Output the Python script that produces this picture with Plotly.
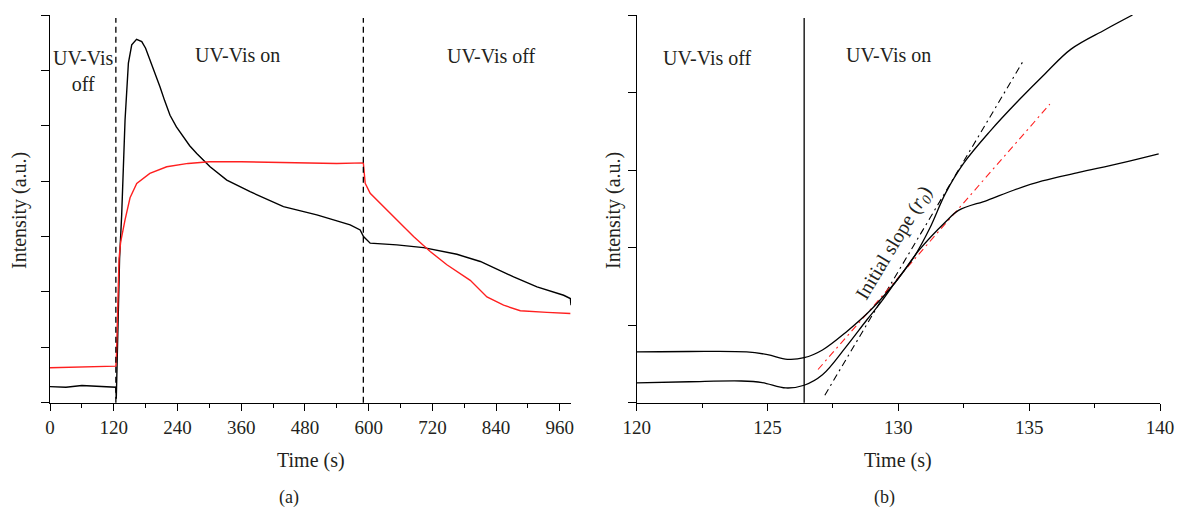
import plotly.graph_objects as go

# ---------------- data: panel (a) ----------------
black_a_t = [0, 30, 60, 90, 120, 124, 124.8, 126, 128, 131, 135, 141.3, 147.6, 153.9, 163,
             172.8, 180, 188.4, 197, 207.2, 216, 226, 238, 251.2, 263, 276.3, 301.4, 332.9, 376.8,
             439.6, 502.4, 533.9, 565.2, 584, 590.3, 602.9, 653.1, 703.4, 766.2, 810.2, 873, 917,
             967.2, 979.8, 981]
black_a_y = [0.29, 0.28, 0.31, 0.29, 0.28, 0.28, 0.07, 0.5, 1.6, 2.6, 3.4, 5.10, 6.13, 6.46, 6.56,
             6.52, 6.40, 6.19, 5.96, 5.70, 5.45, 5.19, 4.98, 4.80, 4.64, 4.50, 4.26, 4.02, 3.81,
             3.54, 3.39, 3.30, 3.21, 3.12, 3.00, 2.88, 2.85, 2.80, 2.68, 2.55, 2.27, 2.09,
             1.94, 1.88, 1.76]

red_a_t = [0, 30, 60, 90, 120, 124, 125, 126, 127, 128, 130, 133, 137, 141.3, 150.7, 163.3, 188,
           219.8, 260, 300, 360, 420, 480, 540, 590, 593.5, 602.9, 628, 653, 684.5, 715.9,
           747.3, 791.3, 822.7, 854.1, 885.5, 935.7, 979.8]
red_a_y = [0.63, 0.64, 0.65, 0.66, 0.66, 0.66, 0.8, 1.3, 1.8, 2.2, 2.6, 2.9, 3.1, 3.30, 3.70, 3.96, 4.14,
           4.26, 4.32, 4.35, 4.35, 4.34, 4.33, 4.32, 4.33, 3.96, 3.78, 3.54, 3.30, 3.00, 2.73,
           2.49, 2.21, 1.91, 1.76, 1.66, 1.63, 1.61]

switch_times_a = [124, 590]
xticks_a = [0, 120, 240, 360, 480, 600, 720, 840, 960]

# ---------------- data: panel (b) ----------------
steep_t = [120, 122, 124, 124.8, 125.7, 126.4, 127.1, 128.0, 128.8, 129.3, 129.9, 130.6, 131.2,
           131.8, 132.5, 133.5, 134.6, 135.6, 136.6, 137.9, 138.95]
steep_y = [0.255, 0.27, 0.28, 0.26, 0.19, 0.225, 0.36, 0.72, 1.07, 1.28, 1.56, 1.88, 2.25,
           2.70, 3.09, 3.50, 3.90, 4.24, 4.56, 4.81, 5.0]

shallow_t = [120, 122, 124.2, 125.0, 125.76, 126.4, 127.1, 128.0, 129.0, 129.9, 130.8, 131.8,
             132.3, 133.4, 134.4, 135.5, 136.9, 138.5, 139.95]
shallow_y = [0.655, 0.66, 0.655, 0.62, 0.56, 0.58, 0.68, 0.91, 1.215, 1.56, 1.97, 2.33,
             2.48, 2.61, 2.74, 2.86, 2.97, 3.09, 3.21]

tangent_black_t = [127.19, 134.77]
tangent_black_y = [0.097, 4.406]
tangent_red_t = [126.93, 135.79]
tangent_red_y = [0.428, 3.85]

switch_time_b = 126.4
xticks_b = [120, 125, 130, 135, 140]

# ---------------- layout helpers ----------------
W, H = 1177, 508
def px(x):
    return x / W
def py(y):
    return 1 - y / H

TXT = "#231f20"
FONT = "Liberation Serif"
RED = "#ff1f1f"

fig = go.Figure()
fig.add_trace(go.Scatter(x=black_a_t, y=black_a_y, mode="lines",
                         line=dict(color="black", width=1.4), xaxis="x", yaxis="y"))
fig.add_trace(go.Scatter(x=red_a_t, y=red_a_y, mode="lines",
                         line=dict(color=RED, width=1.4), xaxis="x", yaxis="y"))

fig.add_trace(go.Scatter(x=tangent_black_t, y=tangent_black_y, mode="lines",
                         line=dict(color="black", width=1.1, dash="7px,4px,2px,4px"),
                         xaxis="x2", yaxis="y2"))
fig.add_trace(go.Scatter(x=tangent_red_t, y=tangent_red_y, mode="lines",
                         line=dict(color=RED, width=1.1, dash="7px,4px,2px,4px"),
                         xaxis="x2", yaxis="y2"))
fig.add_trace(go.Scatter(x=steep_t, y=steep_y, mode="lines", line_shape="spline",
                         line=dict(color="black", width=1.3), xaxis="x2", yaxis="y2"))
fig.add_trace(go.Scatter(x=shallow_t, y=shallow_y, mode="lines", line_shape="spline",
                         line=dict(color="black", width=1.3), xaxis="x2", yaxis="y2"))

ydom = [py(402.7), py(15)]
common_x = dict(showline=True, linecolor="black", linewidth=1.3, ticks="outside",
                ticklen=7, tickwidth=1.2, tickcolor="black", showgrid=False, zeroline=False,
                automargin=False,
                tickfont=dict(family=FONT, size=19, color=TXT), fixedrange=True)
common_y = dict(showline=True, linecolor="black", linewidth=1.3, ticks="outside",
                ticklen=8, tickwidth=1.2, tickcolor="black", showgrid=False, zeroline=False,
                automargin=False,
                showticklabels=False, dtick=1, tick0=0, domain=ydom, fixedrange=True)

fig.update_layout(
    width=W, height=H, autosize=False,
    margin=dict(l=0, r=0, t=0, b=0, pad=0, autoexpand=False),
    paper_bgcolor="white", plot_bgcolor="white", showlegend=False,
    xaxis=dict(domain=[px(50), px(571)], range=[0, 981], tickvals=xticks_a,
               minor=dict(dtick=60, tick0=0, ticks="outside", ticklen=4, tickcolor="black"),
               anchor="y", **common_x),
    yaxis=dict(range=[0, 7], anchor="x", **common_y),
    xaxis2=dict(domain=[px(636.7), px(1160)], range=[120, 140], tickvals=xticks_b,
                minor=dict(dtick=2.5, tick0=120, ticks="outside", ticklen=4, tickcolor="black"),
                anchor="y2", **common_x),
    yaxis2=dict(range=[0, 5], anchor="x2", **common_y),
)

# vertical switch lines
for t in switch_times_a:
    fig.add_shape(type="line", xref="x", yref="y domain", x0=t, x1=t, y0=0, y1=0.992,
                  line=dict(color="black", width=1.3, dash="6px,4px"))
fig.add_shape(type="line", xref="x2", yref="y2 domain", x0=switch_time_b, x1=switch_time_b,
              y0=0, y1=0.992, line=dict(color="black", width=1.3))

def ann(text, x, y, size=20, angle=0):
    fig.add_annotation(text=text, x=px(x), y=py(y), xref="paper", yref="paper",
                       showarrow=False, textangle=angle, xanchor="center", yanchor="middle",
                       font=dict(family=FONT, size=size, color=TXT))

ann("UV-Vis<br>off", 83, 71)
ann("UV-Vis on", 237, 55)
ann("UV-Vis off", 491, 56)
ann("UV-Vis off", 707, 58)
ann("UV-Vis on", 888, 55)
ann("Time (s)", 311, 460)
ann("Time (s)", 898, 460)
ann("Intensity (a.u.)", 20, 211, angle=-90)
ann("Intensity (a.u.)", 614, 211, angle=-90)
ann("(a)", 289, 497, size=18)
ann("(b)", 884, 497, size=18)
ann("Initial slope (<i>r</i><sub><i>0</i></sub>)", 894, 243, angle=-59)

fig.write_html("out.html", config={"responsive": False, "displayModeBar": False},
               post_script="document.body.style.margin='0px';document.body.style.overflow='hidden';")
